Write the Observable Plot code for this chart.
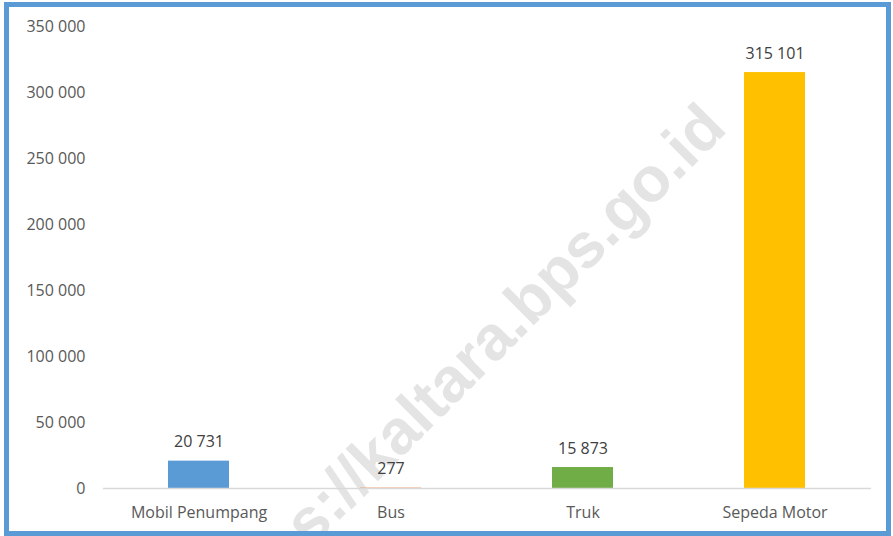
<!DOCTYPE html>
<html>
<head>
<meta charset="utf-8">
<script src="https://cdn.jsdelivr.net/npm/d3@7"></script>
<script src="https://cdn.jsdelivr.net/npm/@observablehq/plot@0.6"></script>
<style>
  html, body { margin: 0; padding: 0; background: white; }
  #wrap { position: relative; width: 893px; height: 536px; overflow: hidden; background: white; }
  #frame { position: absolute; left: 4px; top: 2px; right: 2px; bottom: 0px; border: 5px solid #5B9BD5; box-sizing: border-box; pointer-events: none; z-index: 3; }
  #wm { position: absolute; left: 462px; top: 366px; transform: translate(-50%, -50%) rotate(-45deg); font: bold 63px "Liberation Sans", Arial, sans-serif; color: #E4E4E4; white-space: nowrap; z-index: 0; }
  #chart { position: absolute; left: 0; top: 0; z-index: 1; }
  #chart svg { background: transparent; }
</style>
</head>
<body>
<div id="wrap">
  <div id="wm">https://kaltara.bps.go.id</div>
  <div id="chart"></div>
  <div id="frame"></div>
</div>
<script>
const categories = ["Mobil Penumpang", "Bus", "Truk", "Sepeda Motor"];
const values = [20731, 277, 15873, 315101];
const colors = ["#5B9BD5", "#ED7D31", "#70AD47", "#FFC000"];
const yTicks = [0, 50000, 100000, 150000, 200000, 250000, 300000, 350000];

const data = categories.map((c, i) => ({category: c, value: values[i], color: colors[i]}));
const fmt = d3.formatLocale({decimal: ",", thousands: " ", grouping: [3], currency: ["", ""]}).format(",d");

const chart = Plot.plot({
  width: 893,
  height: 536,
  marginLeft: 103,
  marginRight: 22,
  marginTop: 26,
  marginBottom: 48,
  style: {fontFamily: "'Open Sans', sans-serif", fontSize: "16px", color: "#595959", background: "transparent"},
  x: {domain: categories, paddingInner: 0.68, paddingOuter: 0.34, label: null},
  y: {domain: [0, 350000], label: null},
  marks: [
    Plot.axisY({ticks: yTicks, tickSize: 0, tickPadding: 18, tickFormat: fmt, fill: "#595959", fontSize: 16}),
    Plot.axisX({tickSize: 0, tickPadding: 18, fill: "#595959", fontSize: 16}),
    Plot.barY(data, {x: "category", y: "value", fill: "color"}),
    Plot.ruleY([0], {stroke: "#D9D9D9", strokeWidth: 1.5}),
    Plot.text(data, {x: "category", y: "value", text: d => fmt(d.value), dy: -19, fill: "#404040", fontSize: 16})
  ]
});
document.getElementById("chart").appendChild(chart);
</script>
</body>
</html>
